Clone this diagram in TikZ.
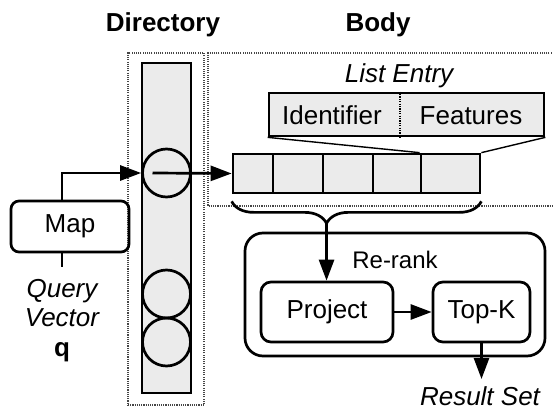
\documentclass[tikz,border=0pt]{standalone}
\usepackage{fontspec}
\setmainfont{Liberation Sans}
\usetikzlibrary{arrows.meta,decorations.pathreplacing,calc}
\definecolor{cellgray}{RGB}{235,235,235}
\definecolor{dotgray}{RGB}{70,70,70}
\begin{document}
\begin{tikzpicture}[x=1pt,y=-1pt,
  txt/.style={font=\fontsize{26}{30}\selectfont, inner sep=0, anchor=base},
  title/.style={txt, font=\fontsize{26}{30}\selectfont\bfseries},
  frame/.style={draw=dotgray, line width=1.3pt, dash pattern=on 1.1pt off 1.1pt},
  solid box/.style={draw, line width=2.7pt, inner sep=0},
  cell/.style={solid box, fill=cellgray},
  stage/.style={solid box, rounded corners=10pt, font=\fontsize{26}{30}\selectfont},
  arr/.style={line width=2.7pt, -{Triangle[length=21pt,width=15pt]}},
  link/.style={line width=2.7pt},
  zoomline/.style={line width=1.4pt},
]
\useasboundingbox (0,0) rectangle (553,409);

% column titles
\node[title] (dirtitle) at (163,32) {Directory};
\node[title] (bodytitle) at (378,32) {Body};

% directory column
\node[frame, minimum width=76pt, minimum height=352pt, inner sep=0] (dirframe) at (166,229) {};
\node[cell, minimum width=49pt, minimum height=330pt] (dirbar) at (166.5,228) {};
\node[solid box, circle, minimum size=48pt] (c1) at (166.5,173) {};
\node[solid box, circle, minimum size=48pt] (c2) at (166.5,294) {};
\node[solid box, circle, minimum size=48pt] (c3) at (166.5,342) {};

% body frame (runs off the right edge)
\draw[frame] (556,53) -- (208,53) -- (208,206) -- (556,206);

% list entry
\node[txt, font=\fontsize{26}{30}\selectfont\itshape] (entrylabel) at (399,83) {List Entry};
\node[cell, minimum width=275pt, minimum height=43pt] (entry) at (406.5,114.5) {};
\coordinate (divx) at (400,0);
\draw[draw=black, line width=1.5pt, dash pattern=on 1.2pt off 1.2pt] (entry.north -| divx) -- (entry.south -| divx);
\node[txt] (ident) at (332,124) {Identifier};
\node[txt] (feat) at (471,124) {Features};

% posting list cells
\node[cell, minimum width=40pt, minimum height=39pt] (cell1) at (253,173.5) {};
\node[cell, minimum width=50pt, minimum height=39pt] (cell2) at (298,173.5) {};
\node[cell, minimum width=50pt, minimum height=39pt] (cell3) at (348,173.5) {};
\node[cell, minimum width=48pt, minimum height=39pt] (cell4) at (397,173.5) {};
\node[cell, minimum width=59pt, minimum height=39pt] (cell5) at (450.5,173.5) {};

\draw[zoomline] (entry.south west) -- (cell5.north west);
\draw[zoomline] (entry.south east) -- (cell5.north east);

% brace over the whole list
\draw[link, decorate, decoration={brace, mirror, amplitude=22pt, aspect=0.38, raise=7pt}]
  (cell1.south west) -- (cell5.south east);
\coordinate (bracetip) at ($(cell1.south west)!0.38!(cell5.south east)+(0,29)$);

% query side
\node[stage, rounded corners=8pt, minimum width=118pt, minimum height=51pt] (map) at (70,226.5) {Map};
\node[txt, font=\fontsize{26}{30}\selectfont\itshape] (qline1) at (62,297) {Query};
\node[txt, font=\fontsize{26}{30}\selectfont\itshape] (qline2) at (62,326) {Vector};
\node[txt, font=\fontsize{26}{30}\selectfont\bfseries] (qvec) at (62,356) {q};
\coordinate (qtop) at (62,267);
\draw[link] ([xshift=-8pt]map.south) -- (qtop);
\draw[arr] ([xshift=-8pt]map.north) |- (c1.west);
\draw[arr] ([xshift=-14pt]c1.center) -- (cell1.west);

% re-rank stage
\node[solid box, rounded corners=18pt, minimum width=300pt, minimum height=123pt] (rerank) at (395,294.5) {};
\node[txt, font=\fontsize{24}{28}\selectfont] (reranklabel) at (395,268) {Re-rank};
\node[stage, minimum width=132pt, minimum height=60pt] (project) at (327,312) {Project};
\node[stage, minimum width=97pt, minimum height=60pt] (topk) at (481.5,312) {Top-K};

\draw[arr] (bracetip) -- (bracetip |- project.north);
\draw[arr] (project.east) -- (topk.west);
\coordinate (resultend) at (481.5,379);
\draw[arr] (topk.south) -- (resultend);
\node[txt, font=\fontsize{26}{30}\selectfont\itshape] (result) at (480,405) {Result Set};
\end{tikzpicture}
\end{document}
